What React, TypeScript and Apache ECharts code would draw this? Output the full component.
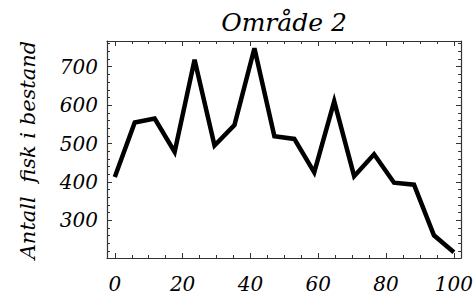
import React, { useEffect, useRef } from "react";
import * as echarts from "echarts";

const xValues = [0, 5.88, 11.76, 17.65, 23.53, 29.41, 35.29, 41.18, 47.06, 52.94, 58.82, 64.71, 70.59, 76.47, 82.35, 88.24, 94.12, 100];
const fishCount = [413, 555, 565, 478, 718, 495, 548, 748, 519, 512, 425, 610, 415, 472, 398, 393, 261, 217];
const titleText = "Område 2";
const yLabelText = "Antall  fisk i bestand";

const FONT = "DejaVu Serif";
const FRAME = "#333";

export default function App() {
  const ref = useRef<HTMLDivElement>(null);
  useEffect(() => {
    if (!ref.current) return;
    const chart = echarts.init(ref.current, undefined, { renderer: "svg" });
    const xMin = -2.3, xMax = 102.1, yMin = 202, yMax = 767;
    const tickCommon = { show: true, inside: true, length: 5, lineStyle: { color: FRAME, width: 1 } };
    const minorCommon = { show: true, length: 3, lineStyle: { color: FRAME, width: 1 } };
    const lineCommon = { show: true, onZero: false, lineStyle: { color: FRAME, width: 1.2 } };
    const labelFont = { color: "#000", fontFamily: FONT, fontStyle: "italic", fontSize: 20 };
    chart.setOption({
      animation: false,
      backgroundColor: "#fff",
      grid: { left: 107, right: 15, top: 41, bottom: 38, containLabel: false },
      xAxis: [
        {
          type: "value", min: xMin, max: xMax, splitNumber: 5, position: "bottom",
          axisLine: lineCommon, axisTick: tickCommon,
          minorTick: { ...minorCommon, splitNumber: 4 },
          splitLine: { show: false },
          axisLabel: { show: true, showMinLabel: false, showMaxLabel: false, margin: 16, ...labelFont },
        },
        {
          type: "value", min: xMin, max: xMax, splitNumber: 5, position: "top",
          axisLine: lineCommon, axisTick: tickCommon,
          minorTick: { ...minorCommon, splitNumber: 4 },
          splitLine: { show: false }, axisLabel: { show: false },
        },
      ],
      yAxis: [
        {
          type: "value", min: yMin, max: yMax, splitNumber: 5, position: "left",
          axisLine: lineCommon, axisTick: tickCommon,
          minorTick: { ...minorCommon, splitNumber: 5 },
          splitLine: { show: false },
          axisLabel: { show: true, showMinLabel: false, showMaxLabel: false, margin: 9, ...labelFont },
        },
        {
          type: "value", min: yMin, max: yMax, splitNumber: 5, position: "right",
          axisLine: lineCommon, axisTick: tickCommon,
          minorTick: { ...minorCommon, splitNumber: 5 },
          splitLine: { show: false }, axisLabel: { show: false },
        },
      ],
      series: [
        {
          type: "line",
          xAxisIndex: 0,
          yAxisIndex: 0,
          data: xValues.map((x, i) => [x, fishCount[i]]),
          showSymbol: false,
          lineStyle: { color: "#000", width: 4.5, join: "miter", miterLimit: 10 },
        },
      ],
      graphic: [
        {
          type: "text",
          x: 284, y: 22,
          style: { text: titleText, fontFamily: FONT, fontStyle: "italic", fontSize: 25, fill: "#000", align: "center", verticalAlign: "middle" },
        },
        {
          type: "text",
          x: 28, y: 150, rotation: Math.PI / 2,
          style: { text: yLabelText, fontFamily: FONT, fontStyle: "italic", fontSize: 21, fill: "#000", align: "center", verticalAlign: "middle" },
        },
      ],
    });
    return () => chart.dispose();
  }, []);
  return <div ref={ref} style={{ width: 476, height: 296, position: "absolute", left: 0, top: 0 }} />;
}
